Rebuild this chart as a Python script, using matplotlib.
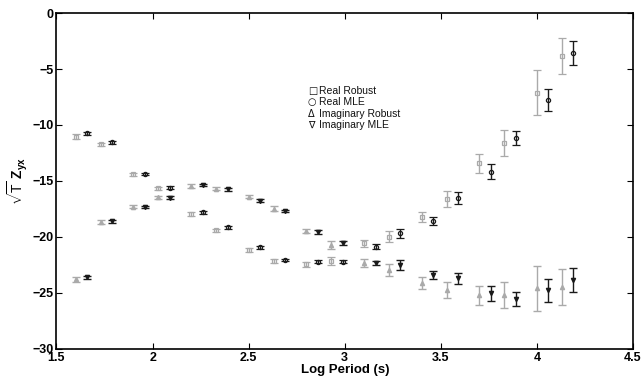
import matplotlib
matplotlib.use("Agg")
import matplotlib.pyplot as plt
import numpy as np

plt.rcParams['font.family'] = ['Liberation Sans', 'DejaVu Sans']
plt.rcParams['mathtext.fontset'] = 'custom'
plt.rcParams['mathtext.bf'] = 'Liberation Sans:bold'
plt.rcParams['mathtext.rm'] = 'Liberation Sans'

# Log period of each robust estimate; MLE plotted slightly to the right
periods = [1.60, 1.73, 1.90, 2.03, 2.20, 2.33, 2.50, 2.63, 2.80, 2.93,
           3.10, 3.23, 3.40, 3.53, 3.70, 3.83, 4.00, 4.13]
mle_offset = 0.06

real_robust = [-11.04, -11.73, -14.41, -15.66, -17.96, -19.40, -21.18, -22.14, -22.46, -22.14,
               -20.58, -19.99, -18.20, -16.62, -13.43, -11.58, -7.11, -3.83]
real_robust_err = [0.20, 0.15, 0.15, 0.15, 0.15, 0.15, 0.15, 0.15, 0.20, 0.34,
                   0.33, 0.50, 0.45, 0.73, 0.82, 1.16, 2.00, 1.60]

real_mle = [-10.75, -11.55, -14.38, -15.60, -17.80, -19.15, -20.94, -22.07, -22.22, -22.22,
            -20.88, -19.69, -18.56, -16.50, -14.17, -11.19, -7.76, -3.59]
real_mle_err = [0.12, 0.12, 0.12, 0.12, 0.12, 0.12, 0.12, 0.12, 0.15, 0.15,
                0.24, 0.40, 0.33, 0.54, 0.66, 0.64, 1.00, 1.06]

imag_robust = [-23.80, -18.65, -17.30, -16.47, -15.46, -15.70, -16.40, -17.48, -19.48, -20.73,
               -22.31, -22.97, -24.10, -24.76, -25.20, -25.20, -24.60, -24.46]
imag_robust_err = [0.20, 0.15, 0.15, 0.15, 0.15, 0.15, 0.15, 0.20, 0.20, 0.33,
                   0.33, 0.52, 0.54, 0.70, 0.86, 1.15, 2.00, 1.60]

imag_mle = [-23.60, -18.60, -17.33, -16.50, -15.37, -15.75, -16.77, -17.69, -19.57, -20.53,
            -22.31, -22.52, -23.42, -23.71, -25.05, -25.55, -24.76, -23.87]
imag_mle_err = [0.12, 0.12, 0.12, 0.12, 0.12, 0.12, 0.12, 0.12, 0.15, 0.20,
                0.20, 0.45, 0.34, 0.50, 0.67, 0.60, 1.04, 1.07]

legend_symbols = ["\u25a1", "\u25cb", "\u0394", "\u2207"]
legend_labels = ["Real Robust", "Real MLE", "Imaginary Robust", "Imaginary MLE"]

xticks = [1.5, 2, 2.5, 3, 3.5, 4, 4.5]
yticks = [0, -5, -10, -15, -20, -25, -30]

gray = '#aaaaaa'
black = '#1a1a1a'

fig = plt.figure(figsize=(6.42, 3.83), dpi=100)
ax = fig.add_axes([0.088, 0.089, 0.898, 0.877])

p = np.array(periods)
pm = p + mle_offset
common = dict(linestyle='none', elinewidth=1.0, capsize=3.2, capthick=1.0, markersize=3.0)

ax.errorbar(p, real_robust, yerr=real_robust_err, fmt='s', color=gray,
            markerfacecolor='none', markeredgecolor=gray, markeredgewidth=0.9, **common)
ax.errorbar(pm, real_mle, yerr=real_mle_err, fmt='o', color=black,
            markerfacecolor='none', markeredgecolor=black, markeredgewidth=0.9, **common)
ax.errorbar(p, imag_robust, yerr=imag_robust_err, fmt='^', color=gray,
            markerfacecolor=gray, markeredgecolor=gray, **common)
ax.errorbar(pm, imag_mle, yerr=imag_mle_err, fmt='v', color=black,
            markerfacecolor=black, markeredgecolor=black, **common)

ax.set_xlim(1.5, 4.5)
ax.set_ylim(-30, 0)
ax.set_xticks(xticks)
ax.set_yticks(yticks)
ax.set_xticklabels([f"{t:g}" for t in xticks], fontweight='bold', fontsize=9)
ax.set_yticklabels([f"{t:g}".replace('-', '\u2212') for t in yticks], fontweight='bold', fontsize=9)
ax.tick_params(direction='in', top=True, right=True, length=4, width=0.8, pad=2)
for s in ax.spines.values():
    s.set_linewidth(1.2)

ax.set_xlabel("Log Period (s)", fontweight='bold', fontsize=9.5, labelpad=0)
ax.set_ylabel(r"$\sqrt{\mathrm{T}}$ Z$_{\mathbf{yx}}$", fontweight='bold', fontsize=10, labelpad=2)

for i, (sym, lab) in enumerate(zip(legend_symbols, legend_labels)):
    y = 0.768 - i * 0.034
    ax.text(0.436, y, sym, transform=ax.transAxes, fontsize=7,
            family=['DejaVu Sans'], va='center', ha='left', color='#111111')
    ax.text(0.456, y, lab, transform=ax.transAxes, fontsize=7.5,
            va='center', ha='left', color='#111111')

fig.savefig("out.png", dpi=100)
